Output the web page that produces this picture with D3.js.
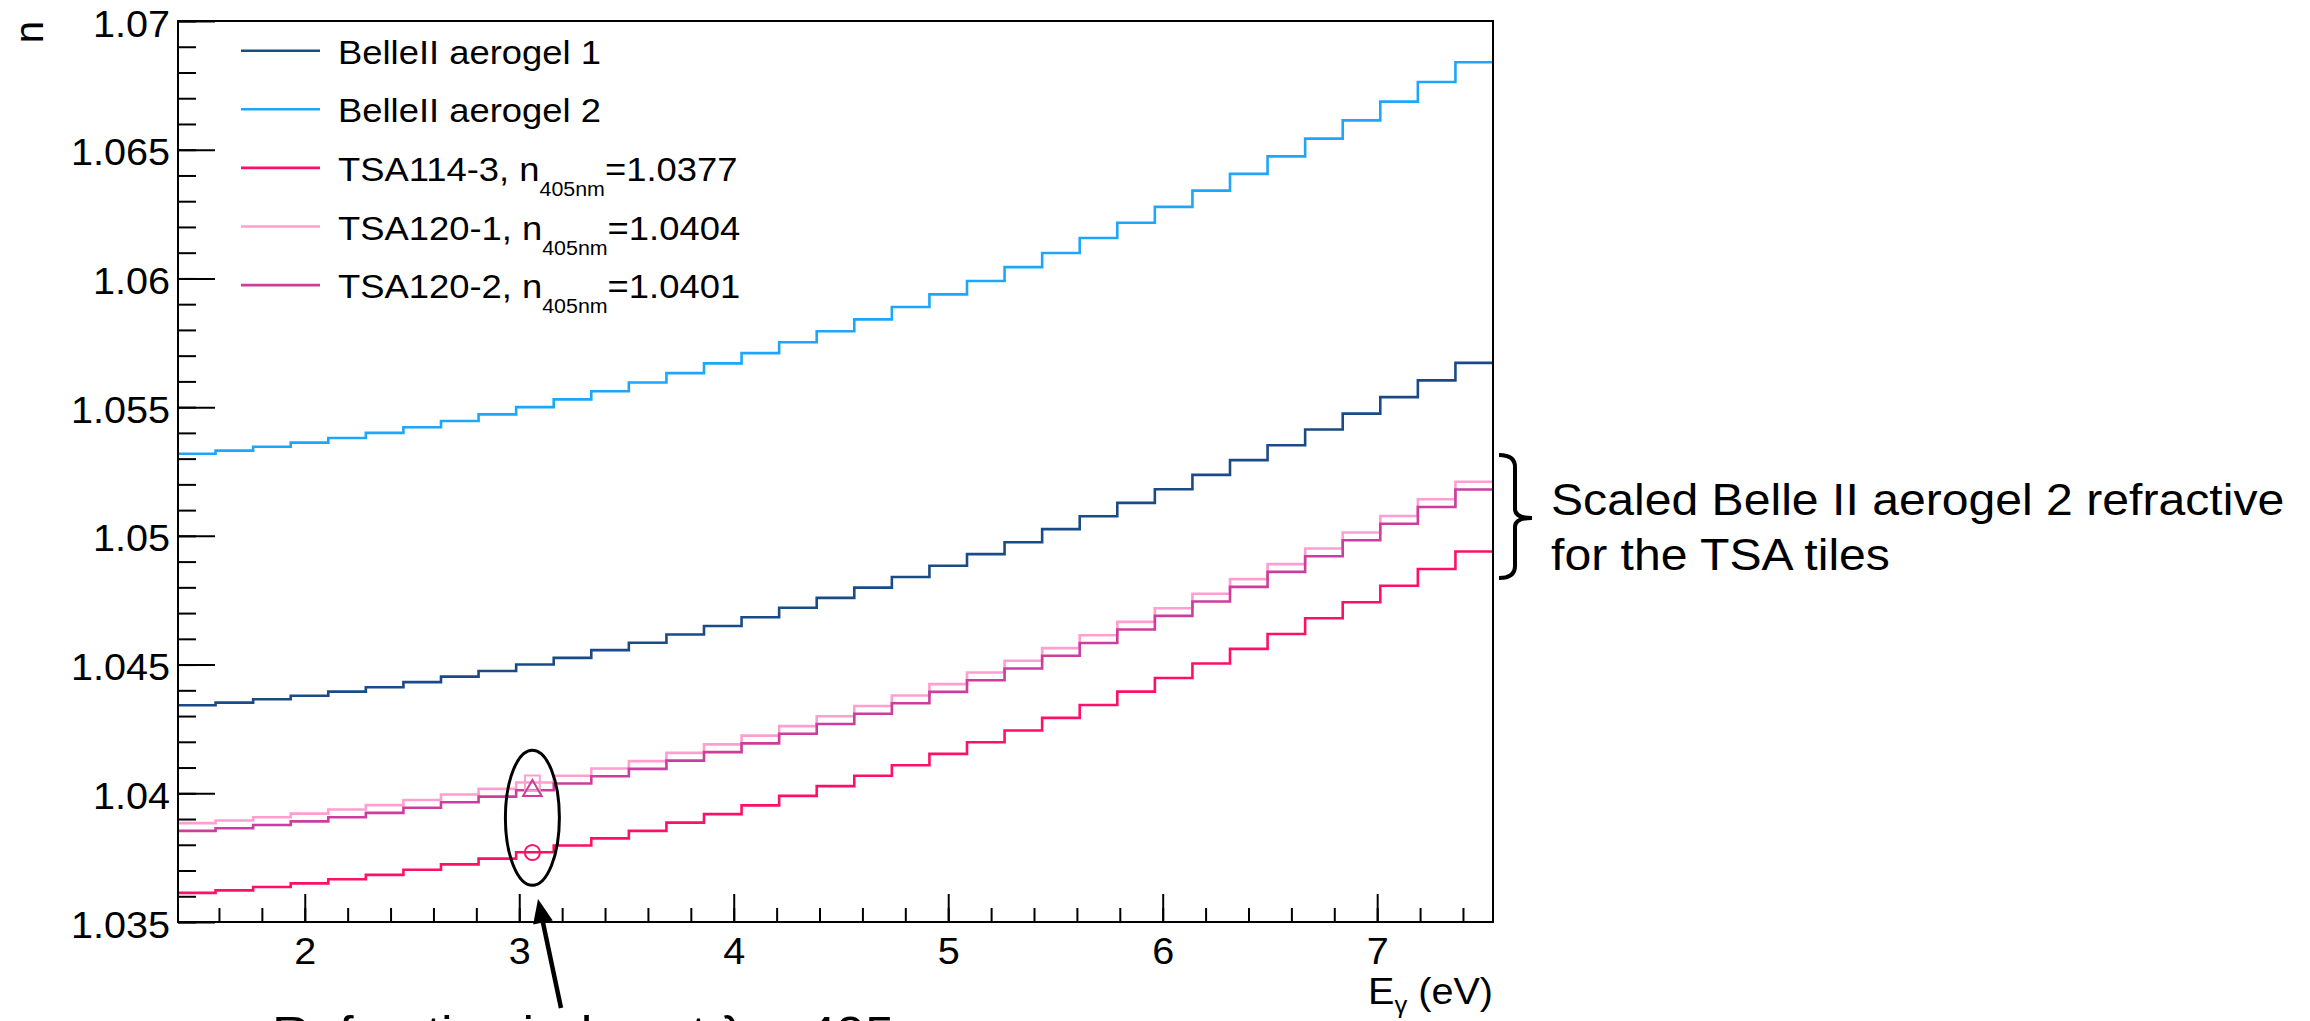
<!DOCTYPE html>
<html><head><meta charset="utf-8">
<script src="https://cdn.jsdelivr.net/npm/d3@7"></script>
<style>html,body{margin:0;padding:0;background:#fff;} svg{display:block;}</style>
</head><body>
<script>
// ---------------- data ----------------
const energyRange = [1.409, 7.540];          // histogram x range (eV), 35 uniform bins
const nRange = [1.035, 1.07];

const seriesNames = ["BelleII aerogel 1", "BelleII aerogel 2", "TSA114-3", "TSA120-1", "TSA120-2"];
const legendN405 = [null, null, "1.0377", "1.0404", "1.0401"];

const belle1 = [1.04342,1.04352,1.04365,1.04379,1.04395,1.04412,1.04432,1.04453,1.04475,1.04500,
  1.04526,1.04556,1.04585,1.04617,1.04650,1.04684,1.04721,1.04759,1.04799,1.04840,
  1.04884,1.04929,1.04975,1.05026,1.05076,1.05128,1.05181,1.05237,1.05294,1.05352,
  1.05413,1.05475,1.05539,1.05604,1.05672];
const belle2 = [1.05319,1.05331,1.05346,1.05362,1.05380,1.05400,1.05422,1.05446,1.05472,1.05500,
  1.05530,1.05562,1.05596,1.05632,1.05670,1.05710,1.05752,1.05795,1.05841,1.05889,
  1.05938,1.05990,1.06044,1.06099,1.06157,1.06216,1.06278,1.06341,1.06406,1.06474,
  1.06543,1.06614,1.06687,1.06763,1.06840];
const tsa114_3 = [1.03613,1.03623,1.03636,1.03650,1.03666,1.03683,1.03703,1.03724,1.03746,1.03771,
  1.03797,1.03825,1.03854,1.03886,1.03919,1.03953,1.03990,1.04028,1.04068,1.04109,
  1.04153,1.04198,1.04244,1.04293,1.04343,1.04395,1.04448,1.04504,1.04561,1.04619,
  1.04680,1.04742,1.04806,1.04871,1.04939];
const tsa120_1 = [1.03884,1.03894,1.03907,1.03921,1.03937,1.03954,1.03974,1.03995,1.04017,1.04042,
  1.04068,1.04096,1.04125,1.04157,1.04190,1.04224,1.04261,1.04299,1.04339,1.04380,
  1.04424,1.04469,1.04515,1.04564,1.04614,1.04666,1.04719,1.04775,1.04832,1.04890,
  1.04951,1.05013,1.05077,1.05142,1.05210];
const tsa120_2 = [1.03854,1.03864,1.03877,1.03891,1.03907,1.03924,1.03944,1.03965,1.03987,1.04012,
  1.04038,1.04066,1.04095,1.04127,1.04160,1.04194,1.04231,1.04269,1.04309,1.04350,
  1.04394,1.04439,1.04485,1.04534,1.04584,1.04636,1.04689,1.04745,1.04802,1.04860,
  1.04921,1.04983,1.05047,1.05112,1.05180];

const markerEnergy = 3.0613;                  // 405 nm
const markerValues = [1.0377, 1.0404, 1.0401];
const markerShapes = ["circle", "square", "triangle"];

const xMajorTicks = [2, 3, 4, 5, 6, 7];
const xTickLabels = ["2", "3", "4", "5", "6", "7"];
const yMajorTicks = [1.035, 1.04, 1.045, 1.05, 1.055, 1.06, 1.065, 1.07];
const yTickLabels = ["1.035", "1.04", "1.045", "1.05", "1.055", "1.06", "1.065", "1.07"];

const xTitle = ["E", "γ", " (eV)"];
const yTitle = "n";
const braceText = ["Scaled Belle II aerogel 2 refractive", "for the TSA tiles"];
const arrowText = "Refractive index at λ = 405 nm";

// ---------------- styles ----------------
const colors = ["#1b4b86", "#1ea6fa", "#ff1068", "#ff9ecf", "#cc3d9d"];
const FONT = "'Liberation Sans', Arial, Helvetica, sans-serif";
const SX = 1.07;

const W = 2310, H = 1021;
const M = {left: 178, right: 1493, top: 21, bottom: 922};

const svg = d3.select("body").append("svg").attr("width", W).attr("height", H)
  .style("font-family", FONT);

const x = d3.scaleLinear().domain(energyRange).range([M.left, M.right]);
const y = d3.scaleLinear().domain(nRange).range([M.bottom, M.top]);

function stext(g, px, py, str, size, anchor) {
  return g.append("text")
    .attr("transform", `translate(${px},${py}) scale(${SX},1)`)
    .attr("text-anchor", anchor || "start")
    .attr("font-size", size)
    .attr("fill", "#000")
    .text(str);
}

// ---- histograms ----
const data = [belle1, belle2, tsa114_3, tsa120_1, tsa120_2];
const nb = belle1.length;
const edges = d3.range(nb + 1).map(i => energyRange[0] + i * (energyRange[1] - energyRange[0]) / nb);
const line = d3.line().x(d => x(d[0])).y(d => y(d[1])).curve(d3.curveStepAfter);
const drawOrder = [0, 1, 3, 4, 2];
drawOrder.forEach(si => {
  const vals = data[si];
  const pts = vals.map((v, i) => [edges[i], v]);
  pts.push([edges[nb], vals[nb - 1]]);
  svg.append("path").attr("d", line(pts)).attr("fill", "none")
    .attr("stroke", colors[si]).attr("stroke-width", 2.6);
});

// ---- axes ----
const yMinor = d3.range(0, 36).map(i => +(nRange[0] + i * 0.001).toFixed(3));
const xMinor = d3.range(8, 38).map(i => +(i * 0.2).toFixed(1)).filter(v => v > energyRange[0] && v < energyRange[1]);

const yAxisMinor = svg.append("g").attr("transform", `translate(${M.left},0)`)
  .call(d3.axisLeft(y).tickValues(yMinor).tickSizeInner(-18).tickSizeOuter(0).tickFormat(""));
const yAxis = svg.append("g").attr("transform", `translate(${M.left},0)`)
  .call(d3.axisLeft(y).tickValues(yMajorTicks).tickSizeInner(-37).tickSizeOuter(0)
    .tickFormat((d, i) => yTickLabels[i]));
const xAxisMinor = svg.append("g").attr("transform", `translate(0,${M.bottom})`)
  .call(d3.axisBottom(x).tickValues(xMinor).tickSizeInner(-14).tickSizeOuter(0).tickFormat(""));
const xAxis = svg.append("g").attr("transform", `translate(0,${M.bottom})`)
  .call(d3.axisBottom(x).tickValues(xMajorTicks).tickSizeInner(-28).tickSizeOuter(0)
    .tickFormat((d, i) => xTickLabels[i]));

[yAxisMinor, yAxis, xAxisMinor, xAxis].forEach(g => {
  g.select(".domain").remove();
  g.selectAll(".tick line").attr("stroke", "#000").attr("stroke-width", 2);
});
yAxis.selectAll(".tick text")
  .attr("x", null).attr("dy", null)
  .attr("transform", `translate(-8,15) scale(${SX},1)`)
  .attr("font-size", 37).attr("font-family", FONT).attr("fill", "#000");
xAxis.selectAll(".tick text")
  .attr("y", null).attr("dy", null)
  .attr("transform", `translate(0,42) scale(${SX},1)`)
  .attr("font-size", 37).attr("font-family", FONT).attr("fill", "#000");

// frame
svg.append("rect").attr("x", M.left).attr("y", M.top)
  .attr("width", M.right - M.left).attr("height", M.bottom - M.top)
  .attr("fill", "none").attr("stroke", "#000").attr("stroke-width", 2);

// axis titles
const xt = svg.append("text")
  .attr("transform", `translate(${M.right},1004) scale(${SX},1)`)
  .attr("text-anchor", "end").attr("font-size", 37);
xt.append("tspan").text(xTitle[0]);
xt.append("tspan").attr("font-size", 24).attr("dy", 9).text(xTitle[1]);
xt.append("tspan").attr("dy", -9).text(xTitle[2]);

svg.append("text").attr("transform", `translate(43,${M.top}) rotate(-90)`)
  .attr("text-anchor", "end").attr("font-size", 40).text(yTitle);

// ---- legend ----
const lg = svg.append("g");
seriesNames.forEach((name, i) => {
  const ly = 50.7 + i * 58.6;
  lg.append("line").attr("x1", 241).attr("x2", 320).attr("y1", ly).attr("y2", ly)
    .attr("stroke", colors[i]).attr("stroke-width", 2.6);
  const t = lg.append("text")
    .attr("transform", `translate(338,${ly + 13}) scale(${SX},1)`)
    .attr("font-size", 34);
  if (legendN405[i] === null) {
    t.text(name);
  } else {
    t.append("tspan").text(name + ", n");
    t.append("tspan").attr("font-size", 20).attr("dy", 15).text("405nm");
    t.append("tspan").attr("dy", -15).text("=" + legendN405[i]);
  }
});

// ---- markers at 405 nm ----
const mx = x(markerEnergy);
markerShapes.forEach((shape, i) => {
  const col = colors[i + 2];
  const my = y(markerValues[i]);
  let sym;
  if (shape === "circle") sym = d3.symbol(d3.symbolCircle, 180);
  else if (shape === "square") sym = d3.symbol(d3.symbolSquare, 220);
  else sym = d3.symbol(d3.symbolTriangle, 150);
  svg.append("path").attr("d", sym())
    .attr("transform", `translate(${mx},${my})`)
    .attr("fill", "none").attr("stroke", col).attr("stroke-width", 2);
});

// ellipse around markers
svg.append("ellipse")
  .attr("cx", x(markerEnergy)).attr("cy", (y(markerValues[0]) + y(markerValues[1])) / 2)
  .attr("rx", 27).attr("ry", 67.5)
  .attr("fill", "none").attr("stroke", "#000").attr("stroke-width", 3);

// arrow
const tip = [538, 899], tail = [561, 1008];
const ang = Math.atan2(tip[1] - tail[1], tip[0] - tail[0]);
const hl = 24, hw = 10;
const bx = tip[0] - hl * Math.cos(ang), by = tip[1] - hl * Math.sin(ang);
svg.append("line").attr("x1", tail[0]).attr("y1", tail[1]).attr("x2", bx).attr("y2", by)
  .attr("stroke", "#000").attr("stroke-width", 4.5);
svg.append("path")
  .attr("d", `M${tip[0]},${tip[1]} L${bx + hw * Math.sin(ang)},${by - hw * Math.cos(ang)} L${bx - hw * Math.sin(ang)},${by + hw * Math.cos(ang)} Z`)
  .attr("fill", "#000");

// annotation text below the chart (cut by the bottom edge, as in the original)
stext(svg, 272, 1050, arrowText, 49, "start");

// brace
svg.append("path")
  .attr("d", "M1499,455 Q1515,455 1515,467 L1515,509 Q1515,518 1532,518 Q1515,518 1515,527 L1515,566 Q1515,578 1499,578")
  .attr("fill", "none").attr("stroke", "#000").attr("stroke-width", 4);
stext(svg, 1551, 515, braceText[0], 45, "start");
stext(svg, 1551, 570, braceText[1], 45, "start");
</script>
</body></html>
